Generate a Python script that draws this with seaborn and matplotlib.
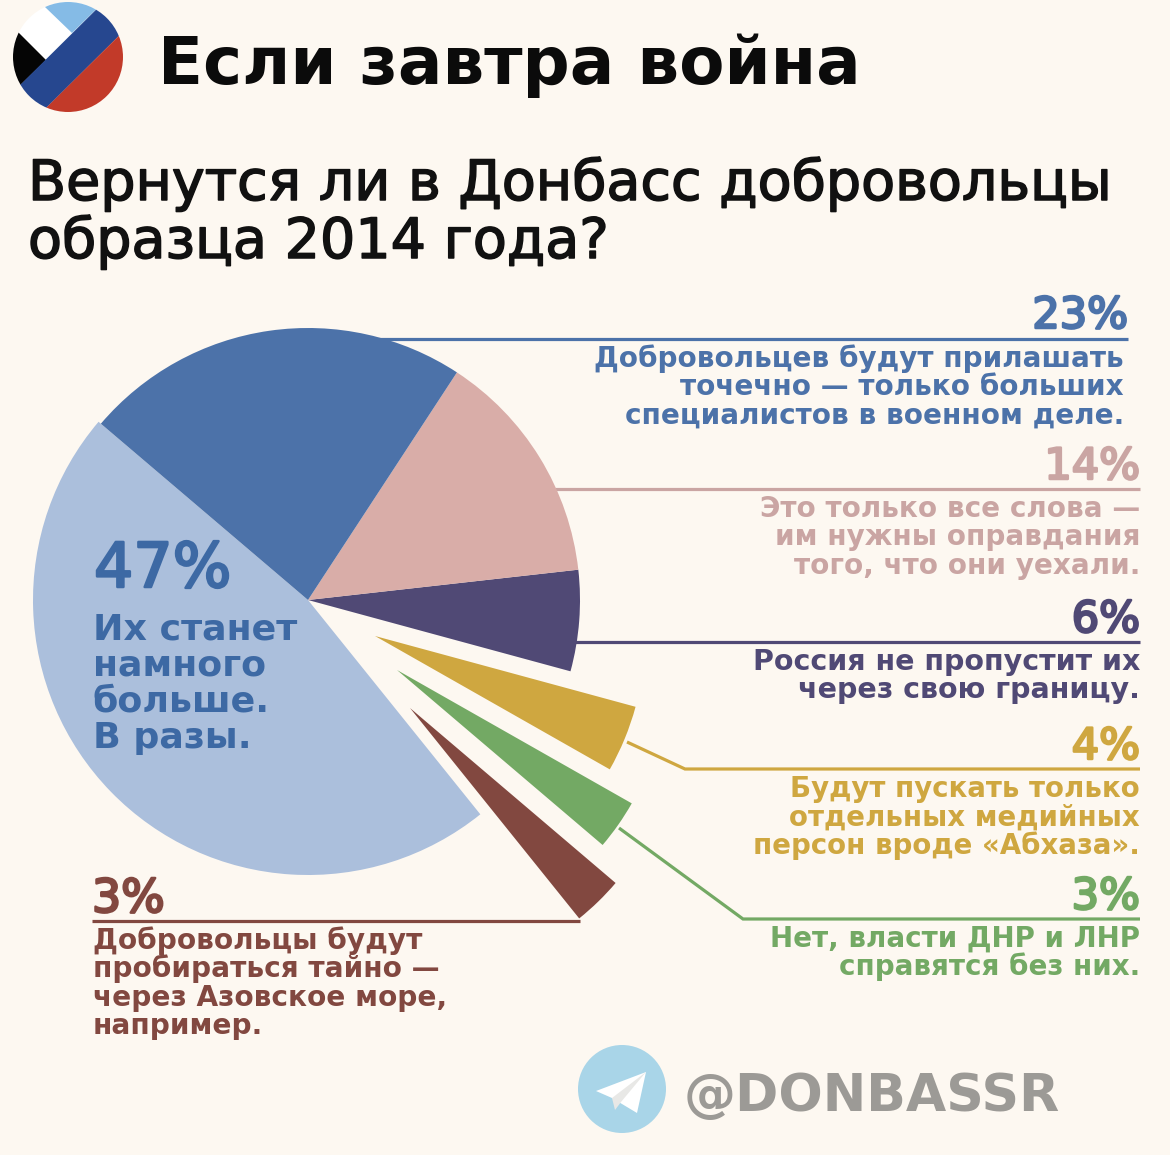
import matplotlib
matplotlib.use('Agg')
import matplotlib.pyplot as plt
import matplotlib.patheffects as pe
from matplotlib.patches import Circle, Polygon
import seaborn as sns

# --- Datos ---
VALORES = [47, 3, 3, 4, 6, 14, 23]
COLORES = ['#ABBFDC', '#824840', '#73A964', '#CFA740', '#504975', '#D9ADA8', '#4C72A9']
# vertices de las porciones separadas (en pixeles)
VERTICES = {1: (410, 708), 2: (397, 670), 3: (375, 636)}

TITULO = 'Если завтра война'
SUBTITULO = ['Вернутся ли в Донбасс добровольцы', 'образца 2014 года?']
PCT_DERECHA = ['23%', '14%', '6%', '4%', '3%']
TEXTOS_DERECHA = [
    ['Добровольцев будут прилашать', 'точечно — только больших', 'специалистов в военном деле.'],
    ['Это только все слова —', 'им нужны оправдания', 'того, что они уехали.'],
    ['Россия не пропустит их', 'через свою границу.'],
    ['Будут пускать только', 'отдельных медийных', 'персон вроде «Абхаза».'],
    ['Нет, власти ДНР и ЛНР', 'справятся без них.'],
]
TEXTO_47 = ['Их станет', 'намного', 'больше.', 'В разы.']
TEXTO_3 = ['Добровольцы будут', 'пробираться тайно —', 'через Азовское море,', 'например.']

FONDO = '#FDF8F1'
AZUL_TEXTO = '#3D69A4'
ROSA_TEXTO = '#CAA5A3'
W, H = 1170, 1155

sns.set_theme(style='white')
plt.rcParams['font.family'] = ['DejaVu Sans']

fig = plt.figure(figsize=(W / 100, H / 100), dpi=100, facecolor=FONDO)
ax = fig.add_axes([0, 0, 1, 1])
ax.set_facecolor(FONDO)


def py(y):
    return H - y


def escribir(x, y, s, color, size, weight='bold', ha='left', grueso=0):
    t = ax.text(x, py(y), s, color=color, fontsize=size, fontweight=weight, ha=ha, va='baseline',
                zorder=5)
    if grueso:
        # la fuente original es mas gruesa que DejaVu normal
        t.set_path_effects([pe.withStroke(linewidth=grueso, foreground=color)])


def linea(xs, ys, color):
    ax.plot(xs, [py(v) for v in ys], color=color, lw=2.3, solid_capstyle='butt',
            solid_joinstyle='miter', zorder=1)


# --- Pastel ---
wedges, _ = ax.pie(VALORES, colors=COLORES, startangle=139.6, counterclock=True,
                   center=(308, py(600)), radius=272, frame=True,
                   wedgeprops={'linewidth': 0, 'edgecolor': 'none'})
for i, (vx, vy) in VERTICES.items():
    wedges[i].set_center((vx, py(vy)))
    wedges[i].set_radius(270)
for w in wedges:
    w.set_zorder(3)
wedges[0].set_zorder(2)
wedges[0].set_radius(275)

ax.set_xlim(0, W)
ax.set_ylim(0, H)
ax.set_aspect('auto')
ax.axis('off')

# --- Lineas guia ---
linea([370, 1128], [339, 339], COLORES[6])
linea([555, 1140], [489, 489], ROSA_TEXTO)
linea([575, 1140], [642, 642], COLORES[4])
linea([627, 685, 1140], [742, 769, 769], COLORES[3])
linea([619, 743, 1140], [828, 919, 919], COLORES[2])
linea([92, 580], [921, 921], COLORES[1])

# --- Titulos ---
escribir(158, 84, TITULO, '#0B0B0B', 47.5)
escribir(28, 200, SUBTITULO[0], '#111111', 40, weight='normal', grueso=1.1)
escribir(28, 258, SUBTITULO[1], '#111111', 40, weight='normal', grueso=1.1)

# --- Etiquetas ---
x_der = [1128, 1140, 1140, 1140, 1140]
x_txt = [1124, 1140, 1140, 1140, 1140]
y_pct = [328, 479, 632, 759, 909]
y_txt = [367, 517, 670, 797, 947]
tam_txt = [20.1, 20.1, 20.5, 19.9, 20]
col_der = [COLORES[6], ROSA_TEXTO, COLORES[4], COLORES[3], COLORES[2]]
for k in range(5):
    escribir(x_der[k], y_pct[k], PCT_DERECHA[k], col_der[k], 31, weight='normal', ha='right', grueso=1.8)
    for j, s in enumerate(TEXTOS_DERECHA[k]):
        escribir(x_txt[k], y_txt[k] + j * 28.3, s, col_der[k], tam_txt[k], ha='right')

escribir(94, 587, '47%', AZUL_TEXTO, 44.5, weight='normal', grueso=1.8)
for j, s in enumerate(TEXTO_47):
    escribir(93, 639 + j * 36.4, s, AZUL_TEXTO, 26.2)

escribir(92, 912, '3%', COLORES[1], 33, weight='normal', grueso=1.8)
for j, s in enumerate(TEXTO_3):
    escribir(93, 949 + j * 28.4, s, COLORES[1], 20.2)

# --- Logo ---
logo = Circle((68, py(57)), 55, transform=ax.transData, fc='white', ec='none')
ax.add_patch(logo)
formas = [
    ('#85BBE6', [(45, 7), (72, 33), (130, -24), (45, -24)]),
    ('#050505', [(46, 60), (5, 100), (0, 100), (0, 14)]),
    ('#26478F', [(5, 100), (130, -24), (150, 5), (20, 134)]),
    ('#C23A29', [(48, 106), (150, 5), (150, 130), (20, 134)]),
]
for color, pts in formas:
    p = Polygon([(x, py(y)) for x, y in pts], fc=color, ec='none')
    ax.add_patch(p)
    p.set_clip_path(logo)

# --- Telegram ---
ax.add_patch(Circle((622, py(1089)), 44, fc='#A9D5E8', ec='none'))
ax.add_patch(Polygon([(x, py(y)) for x, y in
                      [(646, 1072), (596, 1091), (612, 1098), (637, 1113)]], fc='white', ec='none'))
ax.add_patch(Polygon([(x, py(y)) for x, y in
                      [(646, 1072), (612, 1098), (615, 1110), (621, 1102)]], fc='#E8E8E6', ec='none'))
escribir(684, 1111, '@DONBASSR', '#9C9A96', 37.5)

fig.savefig('out.png', dpi=100, facecolor=FONDO)
